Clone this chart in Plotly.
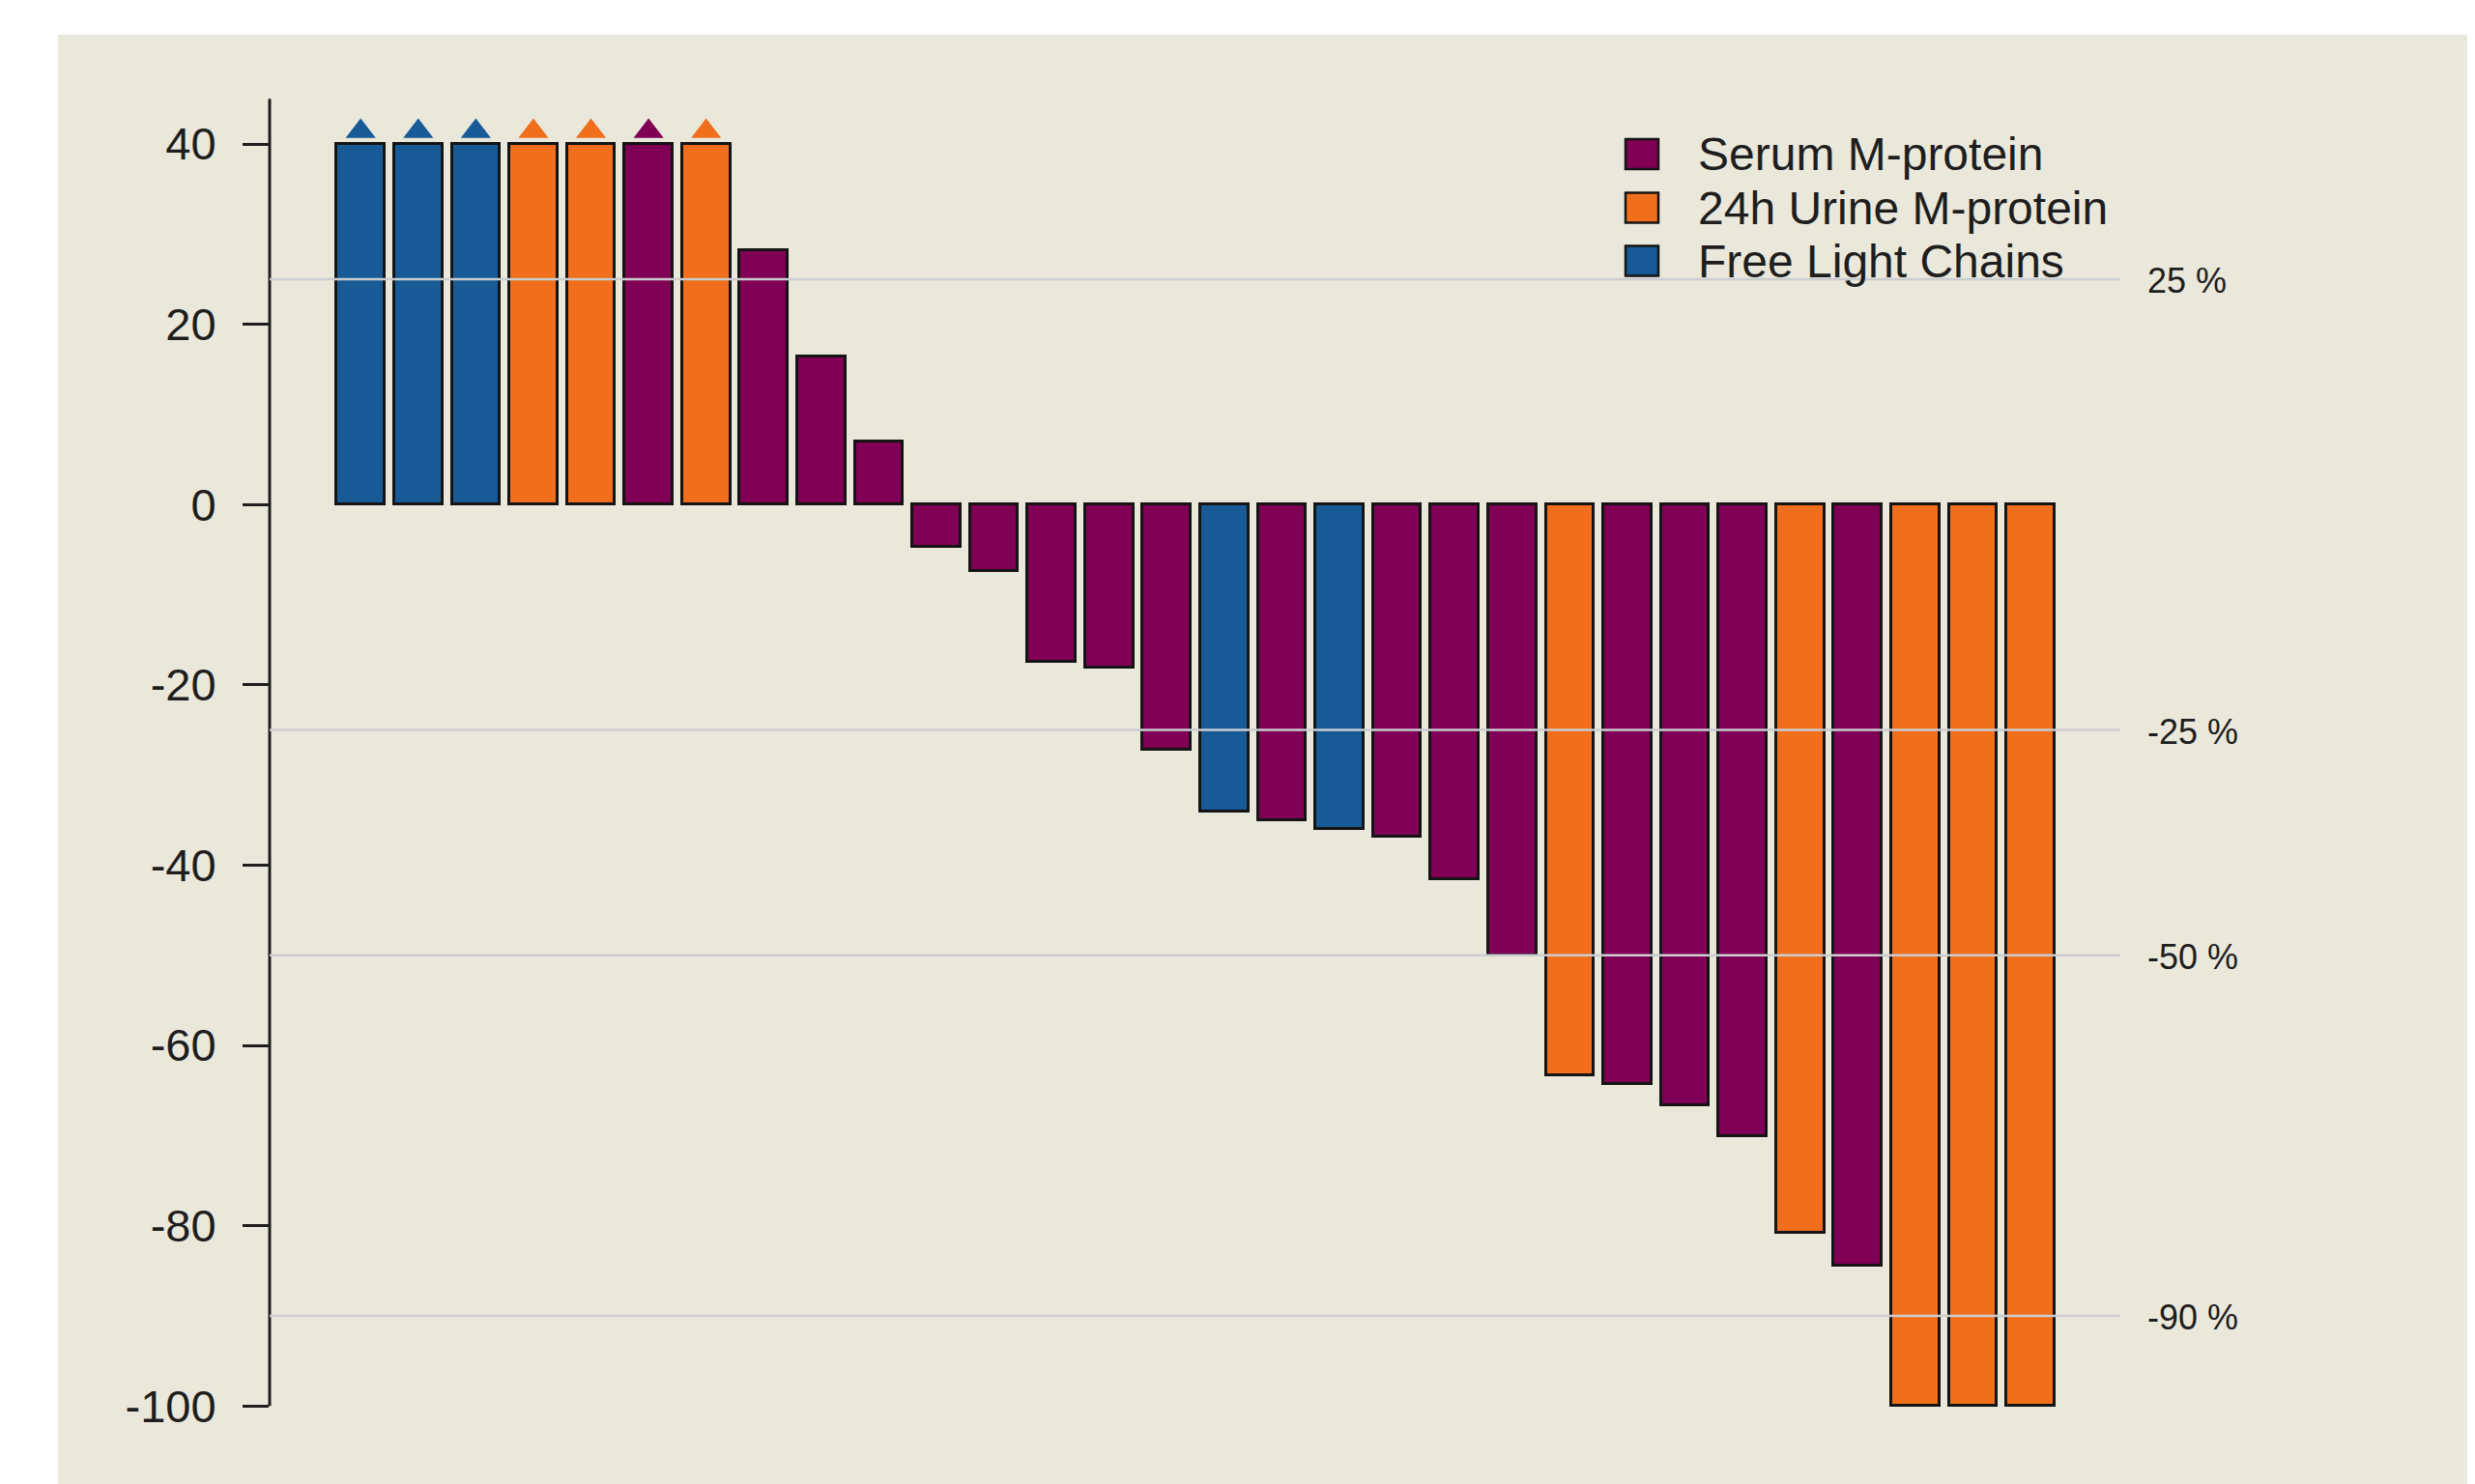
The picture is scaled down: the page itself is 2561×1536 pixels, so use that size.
import plotly.graph_objects as go

# ---------------- data ----------------
values = [40, 40, 40, 40, 40, 40, 40, 28.2, 16.4, 7.0,
          -4.7, -7.4, -17.4, -18.1, -27.2, -34.1, -35.0, -36.0, -36.8, -41.6,
          -50.0, -63.3, -64.3, -66.6, -70.1, -80.8, -84.4, -100, -100, -100]
measure = ["FLC", "FLC", "FLC", "Urine", "Urine", "Serum", "Urine", "Serum", "Serum", "Serum",
           "Serum", "Serum", "Serum", "Serum", "Serum", "FLC", "Serum", "FLC", "Serum", "Serum",
           "Serum", "Urine", "Serum", "Serum", "Serum", "Urine", "Serum", "Urine", "Urine", "Urine"]
truncated = [True] * 7 + [False] * 23          # bars capped at +40 (marked with a triangle)
series_keys = ["Serum", "Urine", "FLC"]
series_names = ["Serum M-protein", "24h Urine M-protein", "Free Light Chains"]
ref_levels = [25, -25, -50, -90]
ref_labels = ["25 %", "-25 %", "-50 %", "-90 %"]
tick_values = [40, 20, 0, -20, -40, -60, -80, -100]
tick_labels = ["40", "20", "0", "-20", "-40", "-60", "-80", "-100"]

# ---------------- style ----------------
colors = {"Serum": "#800055", "Urine": "#f06e1c", "FLC": "#175a96"}
FONT = "Liberation Sans, Arial, sans-serif"
INK = "#1e1e1e"
BEIGE = "#eae8db"

OFF = 8  # page body margin
W, H = 2561 - OFF, 1536 - OFF
L, R, T, B = 279 - OFF, 367, 74 - OFF, 25
PW, PH = W - L - R, H - T - B


def px(x):
    """page x pixel -> paper coordinate"""
    return (x - OFF - L) / PW


def py(y):
    """page y pixel -> paper coordinate"""
    return 1 - (y - OFF - T) / PH


patients = list(range(1, len(values) + 1))
bar_colors = [colors[m] for m in measure]

fig = go.Figure()
fig.add_trace(go.Bar(
    x=patients, y=values, width=0.8333,
    marker=dict(color=bar_colors, line=dict(color="#141414", width=3)),
    showlegend=False, hoverinfo="x+y",
))

tri_x = [p for p, t in zip(patients, truncated) if t]
tri_y = [v + 1.4 for v, t in zip(values, truncated) if t]
tri_c = [colors[m] for m, t in zip(measure, truncated) if t]
fig.add_trace(go.Scatter(
    x=tri_x, y=tri_y, mode="markers",
    marker=dict(symbol="triangle-up", size=27, color=tri_c, line=dict(width=0)),
    showlegend=False, hoverinfo="skip",
))

shapes = [
    # beige panel
    dict(type="rect", xref="paper", yref="paper", x0=px(60), x1=px(2561), y0=py(1536), y1=py(36),
         fillcolor=BEIGE, line=dict(width=0), layer="below"),
    # y axis line
    dict(type="line", xref="x domain", yref="y", x0=0, x1=0, y0=-100, y1=45,
         line=dict(color=INK, width=3)),
]
annotations = []
for lv, lb in zip(ref_levels, ref_labels):
    shapes.append(dict(type="line", xref="x domain", yref="y", x0=0, x1=1, y0=lv, y1=lv,
                       line=dict(color="#cbcdd0", width=2.5), layer="above"))
    annotations.append(dict(text=lb, xref="x domain", yref="y", x=1, y=lv, xanchor="left",
                            yanchor="middle", xshift=26, yshift=-2, showarrow=False,
                            font=dict(family=FONT, size=36, color=INK)))

# custom legend (large squares)
row_centers = [159.5, 215, 270]
for key, name, cy in zip(series_keys, series_names, row_centers):
    shapes.append(dict(type="rect", xref="paper", yref="paper",
                       x0=px(1682), x1=px(1716), y0=py(cy + 15.5), y1=py(cy - 15.5),
                       fillcolor=colors[key], line=dict(color="#141414", width=2.5)))
    annotations.append(dict(text=name, xref="paper", yref="paper", x=px(1755), y=py(cy),
                            xanchor="left", yanchor="middle", showarrow=False,
                            font=dict(family=FONT, size=48, color=INK)))

x_left = 1 - (373.2 - 279) / 59.58
x_right = len(values) + (2194 - 2101) / 59.58

fig.update_layout(
    width=W, height=H,
    margin=dict(l=L, r=R, t=T, b=B, pad=0),
    paper_bgcolor="white", plot_bgcolor="rgba(0,0,0,0)",
    font=dict(family=FONT, color=INK),
    xaxis=dict(visible=False, range=[x_left, x_right]),
    yaxis=dict(range=[-105.98, 48.04], showgrid=False, zeroline=False, showline=False,
               ticks="outside", ticklen=27, tickwidth=3, tickcolor=INK,
               tickvals=tick_values, ticktext=tick_labels, ticklabelstandoff=18,
               tickfont=dict(family=FONT, size=47, color=INK)),
    shapes=shapes, annotations=annotations,
    bargap=0, showlegend=False,
)

fig.write_html("out.html")
